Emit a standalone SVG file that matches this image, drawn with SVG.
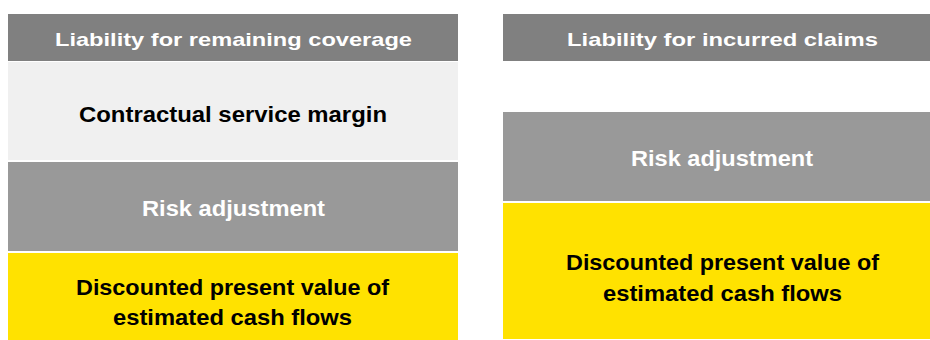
<svg xmlns="http://www.w3.org/2000/svg" width="930" height="340" viewBox="0 0 930 340">
<style>
.hdr{fill:#808080}
.csm{fill:#f0f0f0}
.ra{fill:#999999}
.pv{fill:#ffe200}
text{font-family:"Liberation Sans",Arial,sans-serif;font-weight:bold;text-anchor:middle}
.th{fill:#ffffff;font-size:19px}
.tw{fill:#ffffff;font-size:22px}
.tb{fill:#000000;font-size:22px}
</style>
<rect width="930" height="340" fill="#ffffff"/>
<g id="lrc-header">
<rect class="hdr" x="8" y="14" width="450" height="47"/>
<text class="th" x="233.5" y="46" textLength="357" lengthAdjust="spacingAndGlyphs">Liability for remaining coverage</text>
</g>
<g id="lrc-csm">
<rect class="csm" x="8" y="62" width="450" height="98"/>
<text class="tb" x="233" y="122" textLength="308" lengthAdjust="spacingAndGlyphs">Contractual service margin</text>
</g>
<g id="lrc-risk">
<rect class="ra" x="8" y="162" width="450" height="89"/>
<text class="tw" x="233.5" y="216" textLength="183" lengthAdjust="spacingAndGlyphs">Risk adjustment</text>
</g>
<g id="lrc-pv">
<rect class="pv" x="8" y="253" width="450" height="87"/>
<text class="tb" x="232.5" y="295" textLength="313" lengthAdjust="spacingAndGlyphs">Discounted present value of</text>
<text class="tb" x="232.5" y="325" textLength="239" lengthAdjust="spacingAndGlyphs">estimated cash flows</text>
</g>
<g id="lic-header">
<rect class="hdr" x="503" y="14" width="427" height="47"/>
<text class="th" x="722.5" y="46" textLength="311" lengthAdjust="spacingAndGlyphs">Liability for incurred claims</text>
</g>
<g id="lic-risk">
<rect class="ra" x="503" y="112" width="427" height="89"/>
<text class="tw" x="722" y="166" textLength="182" lengthAdjust="spacingAndGlyphs">Risk adjustment</text>
</g>
<g id="lic-pv">
<rect class="pv" x="503" y="203" width="427" height="136"/>
<text class="tb" x="722.5" y="270" textLength="313" lengthAdjust="spacingAndGlyphs">Discounted present value of</text>
<text class="tb" x="722.5" y="301" textLength="239" lengthAdjust="spacingAndGlyphs">estimated cash flows</text>
</g>
<g id="connectors"/>
</svg>
